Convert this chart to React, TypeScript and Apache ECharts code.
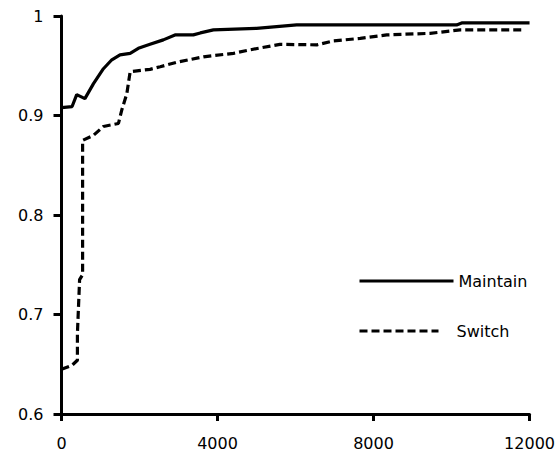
import React, { useEffect, useRef } from "react";
import * as echarts from "echarts";

const maintainX = [0, 272, 390, 600, 820, 1075, 1290, 1500, 1760, 1970, 2270, 2610, 2910, 3380, 3560, 3895, 5000, 6030, 10130, 10260, 12000];
const maintainY = [0.908, 0.909, 0.921, 0.917, 0.932, 0.947, 0.956, 0.961, 0.9625, 0.9675, 0.9715, 0.976, 0.981, 0.981, 0.983, 0.986, 0.9876, 0.991, 0.991, 0.993, 0.993];

const switchX = [0, 272, 408, 408, 464, 541, 541, 818, 1075, 1460, 1545, 1675, 1760, 2270, 2530, 2955, 3640, 4410, 4835, 5600, 6550, 6970, 7660, 8340, 9450, 10220, 11800];
const switchY = [0.645, 0.649, 0.654, 0.681, 0.735, 0.74, 0.875, 0.88, 0.889, 0.892, 0.9055, 0.922, 0.944, 0.9464, 0.949, 0.9535, 0.959, 0.9625, 0.966, 0.9715, 0.971, 0.975, 0.9775, 0.981, 0.9826, 0.986, 0.986];

const seriesNames = ["Maintain", "Switch"];
const xTicks = { min: 0, max: 12000, interval: 4000 };
const yTicks = { min: 0.6, max: 1, interval: 0.1 };

const FONT = "DejaVu Sans";
const SWITCH_DASH = [8, 4];

export default function App() {
  const ref = useRef<HTMLDivElement>(null);
  useEffect(() => {
    const chart = echarts.init(ref.current!, null, { renderer: "svg" });
    const axisLine = { show: true, lineStyle: { color: "#000", width: 3 } };
    chart.setOption({
      animation: false,
      backgroundColor: "#fff",
      grid: { left: 61.5, right: 28, top: 16, bottom: 45, containLabel: false },
      xAxis: {
        type: "value",
        ...xTicks,
        axisLine,
        splitLine: { show: false },
        axisTick: { show: true, length: 7, lineStyle: { color: "#000", width: 3 } },
        axisLabel: {
          color: "#000",
          fontFamily: FONT,
          fontSize: 16,
          margin: 21,
          formatter: (v: number) => String(v),
        },
      },
      yAxis: {
        type: "value",
        ...yTicks,
        axisLine,
        splitLine: { show: false },
        axisTick: { show: true, length: 8, lineStyle: { color: "#000", width: 3 } },
        axisLabel: {
          color: "#000",
          fontFamily: FONT,
          fontSize: 16,
          margin: 18,
          formatter: (v: number) => String(Math.round(v * 10) / 10),
        },
      },
      legend: [
        {
          data: [seriesNames[0]],
          left: 358,
          top: 273,
          padding: 0,
          itemWidth: 94,
          itemHeight: 14,
          itemStyle: { opacity: 0 },
          lineStyle: { color: "#000", width: 3, type: "solid" },
          textStyle: { color: "#000", fontFamily: FONT, fontSize: 16, padding: [0, 0, 0, 0] },
        },
        {
          data: [seriesNames[1]],
          left: 358,
          top: 323,
          padding: 0,
          itemWidth: 79,
          itemHeight: 14,
          itemStyle: { opacity: 0 },
          lineStyle: { color: "#000", width: 3, type: SWITCH_DASH },
          textStyle: { color: "#000", fontFamily: FONT, fontSize: 16, padding: [0, 0, 0, 13] },
        },
      ],
      series: [
        {
          name: seriesNames[0],
          type: "line",
          symbol: "none",
          data: maintainX.map((x, i) => [x, maintainY[i]]),
          lineStyle: { color: "#000", width: 3.2, type: "solid" },
          itemStyle: { color: "#000" },
        },
        {
          name: seriesNames[1],
          type: "line",
          symbol: "none",
          data: switchX.map((x, i) => [x, switchY[i]]),
          lineStyle: { color: "#000", width: 3.2, type: SWITCH_DASH },
          itemStyle: { color: "#000" },
        },
      ],
    });
    return () => chart.dispose();
  }, []);
  return <div ref={ref} style={{ width: 558, height: 459, position: "absolute", left: 0, top: 0 }} />;
}
